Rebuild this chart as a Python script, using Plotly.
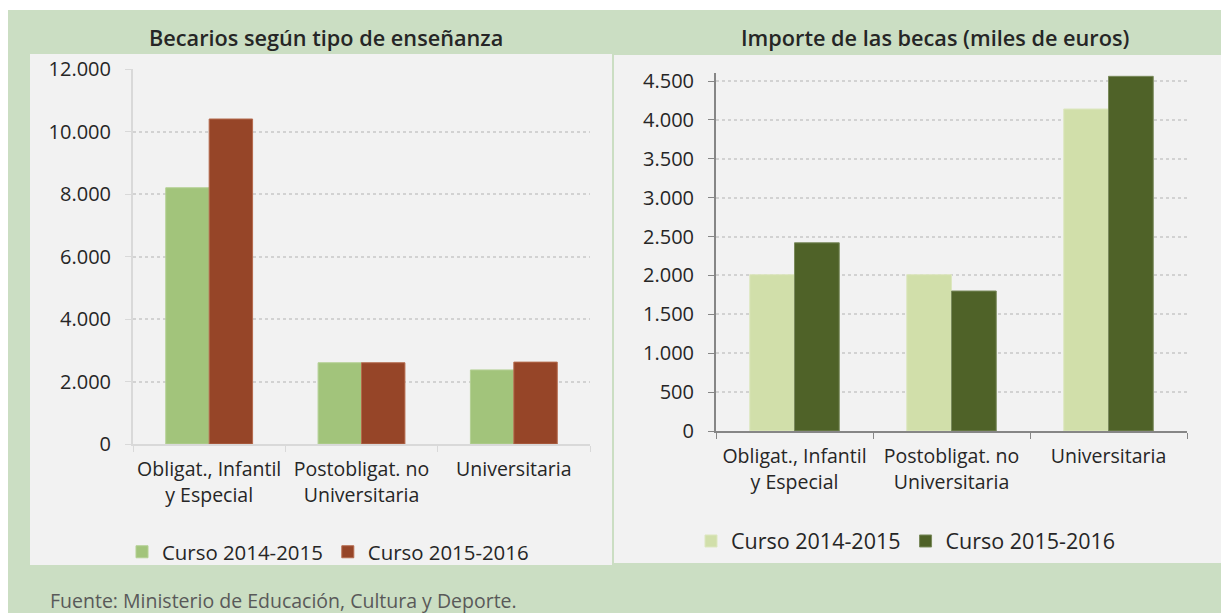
import plotly.graph_objects as go

categories = ["Obligat., Infantil<br>y Especial", "Postobligat. no<br>Universitaria", "Universitaria"]
series_names = ["Curso 2014-2015", "Curso 2015-2016"]
becarios_2014 = [8200, 2600, 2370]
becarios_2015 = [10400, 2600, 2620]
importe_2014 = [2010, 2010, 4140]
importe_2015 = [2420, 1800, 4560]
left_title = "Becarios según tipo de enseñanza"
right_title = "Importe de las becas (miles de euros)"
source_text = "Fuente: Ministerio de Educación, Cultura y Deporte."

W, H = 1229, 613
OFF = 8  # page body margin
def px(x): return (x - OFF) / W
def py(y): return 1 - (y - OFF) / H

FONT = "Open Sans"
TXT = "#262626"
BG_GREEN = "#cbdec3"
PANEL = "#f2f2f2"

fig = go.Figure()
fig.add_trace(go.Bar(x=categories, y=becarios_2014, name=series_names[0], marker_color="#a2c47b",
                     marker_line_color="#b4d094", xaxis="x", yaxis="y", legend="legend"))
fig.add_trace(go.Bar(x=categories, y=becarios_2015, name=series_names[1], marker_color="#964528",
                     marker_line_color="#b56a4c", xaxis="x", yaxis="y", legend="legend"))
fig.add_trace(go.Bar(x=categories, y=importe_2014, name=series_names[0], marker_color="#d1dfaa",
                     marker_line_color="#dde7c0", xaxis="x2", yaxis="y2", legend="legend2"))
fig.add_trace(go.Bar(x=categories, y=importe_2015, name=series_names[1], marker_color="#4f6228",
                     marker_line_color="#7a8a5c", xaxis="x2", yaxis="y2", legend="legend2"))
fig.update_traces(marker_line_width=1)

shapes = [
    dict(type="rect", xref="paper", yref="paper", x0=0, x1=1, y0=py(10), y1=1,
         fillcolor="white", line_width=0, layer="below"),
    dict(type="rect", xref="paper", yref="paper", x0=px(30), x1=px(612), y0=py(565), y1=py(54),
         fillcolor=PANEL, line_width=0, layer="below"),
    dict(type="rect", xref="paper", yref="paper", x0=px(614), x1=px(1223), y0=py(563), y1=py(55),
         fillcolor=PANEL, line_width=0, layer="below"),
]

ytickfont = dict(family=FONT, size=20, color=TXT)
xtickfont = dict(family=FONT, size=19.5, color=TXT)
common_x = dict(type="category", tickson="boundaries", ticks="outside", ticklen=6,
                showgrid=False, tickfont=xtickfont, showline=True, linewidth=2,
                automargin=False, ticklabelstandoff=7, tickangle=0)
common_y = dict(showgrid=True, griddash="dot", gridcolor="#d2d2d2", gridwidth=1.6,
                ticks="outside", ticklen=6, tickformat=",.0f", tickfont=ytickfont,
                showline=True, linewidth=2, zeroline=False, automargin=False,
                ticklabelstandoff=10)

# right chart: 0 at y=431, 4500 at y=81 -> extend range a bit so the tallest bar fits
R_TOP = 4600
r_top_px = 431 - (431 - 81) * R_TOP / 4500

fig.update_layout(
    width=W, height=H,
    margin=dict(l=0, r=0, t=0, b=0),
    paper_bgcolor=BG_GREEN, plot_bgcolor="rgba(0,0,0,0)",
    separators=",.",
    barmode="group", bargap=0.43, bargroupgap=0,
    shapes=shapes,
    xaxis=dict(domain=[px(133), px(590)], anchor="y", linecolor="#d9d9d9", tickcolor="#d9d9d9", **common_x),
    yaxis=dict(domain=[py(444), py(69)], anchor="x", range=[0, 12000], dtick=2000,
               linecolor="#d9d9d9", tickcolor="#d9d9d9", **common_y),
    xaxis2=dict(domain=[px(716), px(1187)], anchor="y2", linecolor="#868686", tickcolor="#868686", **common_x),
    yaxis2=dict(domain=[py(431), py(r_top_px)], anchor="x2", range=[0, R_TOP], dtick=500,
                linecolor="#868686", tickcolor="#868686", **common_y),
    legend=dict(orientation="h", x=px(328), xanchor="center", y=py(552), yanchor="middle",
                font=dict(family=FONT, size=20.4, color=TXT), bgcolor="rgba(0,0,0,0)",
                itemclick=False, tracegroupgap=0),
    legend2=dict(orientation="h", x=px(906), xanchor="center", y=py(541), yanchor="middle",
                 font=dict(family=FONT, size=21.5, color=TXT), bgcolor="rgba(0,0,0,0)",
                 itemclick=False, tracegroupgap=0),
    annotations=[
        dict(text=left_title, xref="paper", yref="paper", x=px(326), y=py(38),
             xanchor="center", yanchor="middle", showarrow=False,
             font=dict(family=FONT, size=21.7, color=TXT, weight=600)),
        dict(text=right_title, xref="paper", yref="paper", x=px(935), y=py(38),
             xanchor="center", yanchor="middle", showarrow=False,
             font=dict(family=FONT, size=21.7, color=TXT, weight=600)),
        dict(text=source_text, xref="paper", yref="paper", x=px(48), y=py(600),
             xanchor="left", yanchor="middle", showarrow=False,
             font=dict(family=FONT, size=19.5, color="#595959")),
    ],
)

fig.write_html("out.html")
